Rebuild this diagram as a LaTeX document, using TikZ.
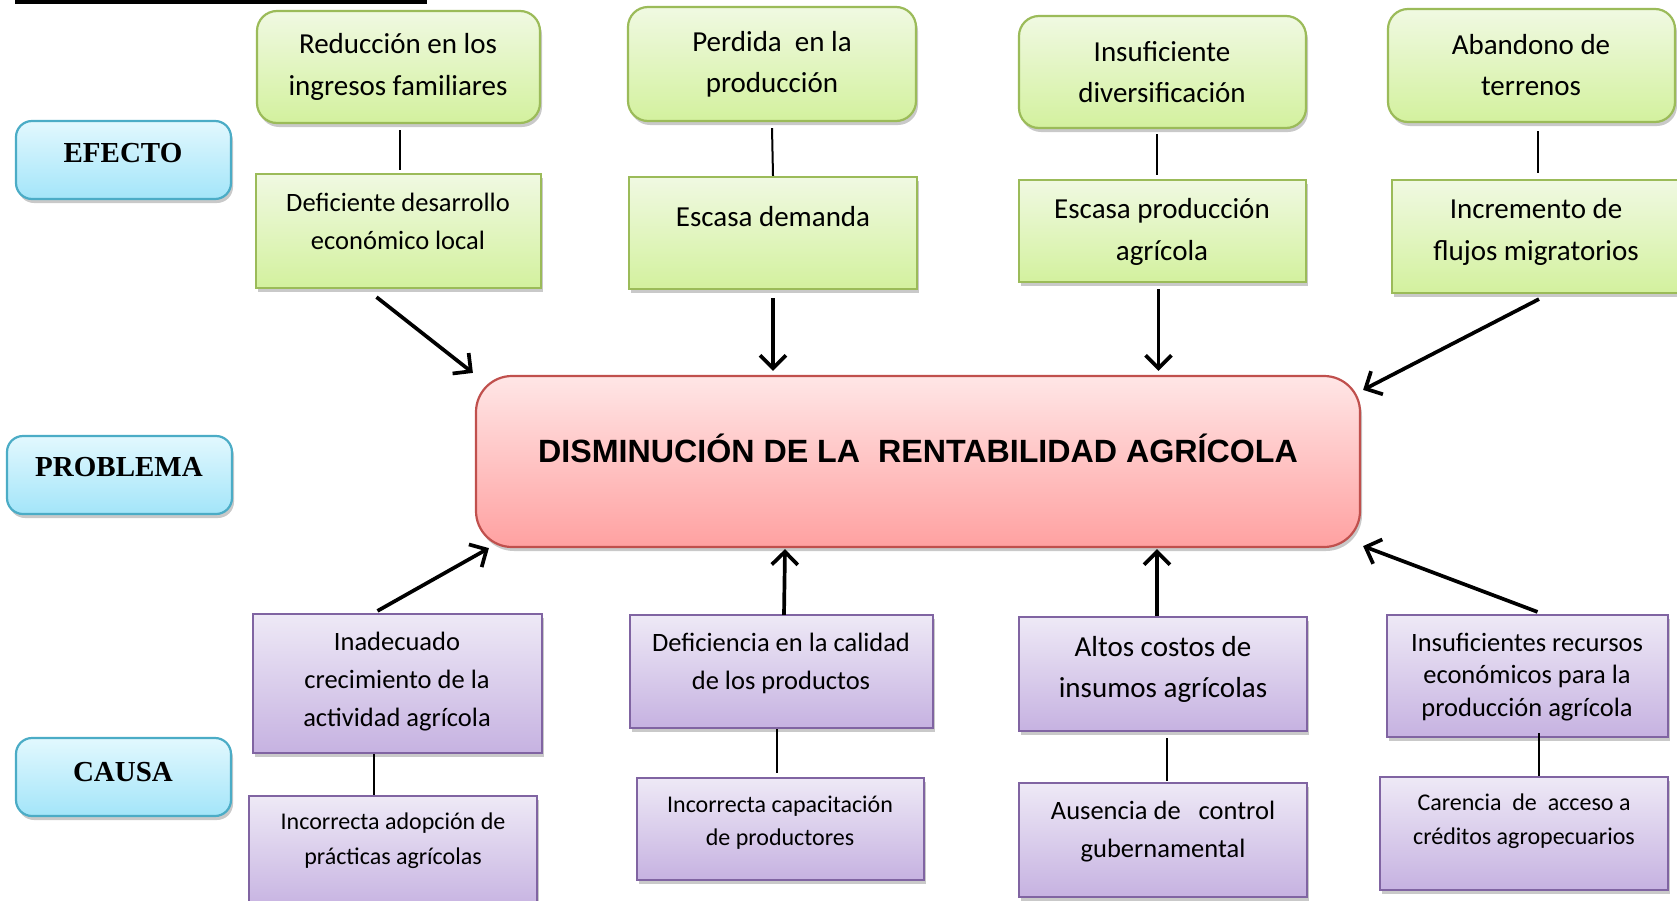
\documentclass[tikz,border=0pt]{standalone}
\usepackage{fontspec}
\setmainfont{Carlito}
\newfontfamily\titlefont{Liberation Sans}
\newfontfamily\labfont{Liberation Serif}
\usetikzlibrary{shadows,calc,arrows.meta}
\definecolor{gtop}{HTML}{F0F9E2}
\definecolor{gbot}{HTML}{D3F19E}
\definecolor{gdraw}{HTML}{9BBB59}
\definecolor{ptop}{HTML}{EEE9F6}
\definecolor{pbot}{HTML}{C6B2E1}
\definecolor{pdraw}{HTML}{8064A2}
\definecolor{btop}{HTML}{E2F8FE}
\definecolor{bbot}{HTML}{A3E5F9}
\definecolor{bdraw}{HTML}{4BACC6}
\definecolor{rtop}{HTML}{FFE6E6}
\definecolor{rbot}{HTML}{FFA1A1}
\definecolor{rdraw}{HTML}{C0504D}
\begin{document}
\begin{tikzpicture}[x=1pt,y=-1pt,
  shad/.style={drop shadow={shadow xshift=2pt,shadow yshift=-4pt,opacity=0.3,fill=black!70}},
  gbox/.style={draw=gdraw,line width=2.2pt,top color=gtop,bottom color=gbot,shad,inner sep=0pt},
  grbox/.style={gbox,rounded corners=20pt},
  pbox/.style={draw=pdraw,line width=2.2pt,top color=ptop,bottom color=pbot,shad,inner sep=0pt},
  bbox/.style={draw=bdraw,line width=2.2pt,top color=btop,bottom color=bbot,shad,rounded corners=16pt,inner sep=0pt},
  mainbox/.style={draw=rdraw,line width=2.2pt,top color=rtop,bottom color=rbot,shad,rounded corners=36pt,inner sep=0pt},
  txt/.style={align=center,inner sep=0pt,text=black},
  conn/.style={line width=2pt,black},
  arr/.style={line width=3.7pt,black,-{Straight Barb[length=13pt,width=26pt]}},
  labtxt/.style={inner sep=0pt,font=\labfont\bfseries\fontsize{29}{34}\selectfont}
]
\path[use as bounding box] (0,0) rectangle (1677,900);
\fill[black] (15,-2) rectangle (427,4);

% left labels
\node[bbox,minimum width=215pt,minimum height=78pt] (L1) at (123.5,160) {};
\node[bbox,minimum width=225pt,minimum height=78pt] (L2) at (119.5,475) {};
\node[bbox,minimum width=215pt,minimum height=78pt] (L3) at (123.5,777) {};
\node[labtxt] (tL1) at (123,153) {EFECTO};
\node[labtxt] (tL2) at (119,467) {PROBLEMA};
\node[labtxt] (tL3) at (123,772) {CAUSA};

% effects: top row
\node[grbox,minimum width=283pt,minimum height=112pt] (A1) at (398.5,67) {};
\node[grbox,minimum width=288pt,minimum height=114pt] (A2) at (772,64) {};
\node[grbox,minimum width=287pt,minimum height=112pt] (A3) at (1162.5,72) {};
\node[grbox,minimum width=287pt,minimum height=113pt] (A4) at (1531.5,65.5) {};
% effects: second row
\node[gbox,minimum width=285pt,minimum height=114pt] (B1) at (398.5,231) {};
\node[gbox,minimum width=288pt,minimum height=112pt] (B2) at (773,233) {};
\node[gbox,minimum width=287pt,minimum height=102pt] (B3) at (1162.5,231) {};
\node[gbox,minimum width=288pt,minimum height=113pt] (B4) at (1536,236.5) {};

% main problem
\node[mainbox,minimum width=884pt,minimum height=171pt] (C) at (918,461.5) {};

% causes
\node[pbox,minimum width=289pt,minimum height=139pt] (D1) at (397.5,683.5) {};
\node[pbox,minimum width=303pt,minimum height=113pt] (D2) at (781.5,671.5) {};
\node[pbox,minimum width=288pt,minimum height=114pt] (D3) at (1163,674) {};
\node[pbox,minimum width=281pt,minimum height=122pt] (D4) at (1527.5,676) {};
\node[pbox,minimum width=288pt,minimum height=114pt] (E1) at (393,853) {};
\node[pbox,minimum width=287pt,minimum height=102pt] (E2) at (780.5,829) {};
\node[pbox,minimum width=288pt,minimum height=114pt] (E3) at (1163,840) {};
\node[pbox,minimum width=288pt,minimum height=113pt] (E4) at (1524,833.5) {};

% texts
\node[txt,font=\fontsize{29}{42}\selectfont] (tA1) at (398,67) {Reducción en los\\ingresos familiares};
\node[txt,font=\fontsize{29}{41}\selectfont] (tA2) at (772,64) {Perdida\ \ en la\\producción};
\node[txt,font=\fontsize{29}{41}\selectfont] (tA3) at (1162,72) {Insuficiente\\diversificación};
\node[txt,font=\fontsize{29}{41}\selectfont] (tA4) at (1531,65.5) {Abandono de\\terrenos};
\node[txt,font=\fontsize{26.5}{38}\selectfont] (tB1) at (398,221.5) {Deficiente desarrollo\\económico local};
\node[txt,font=\fontsize{29}{40}\selectfont] (tB2) at (773,217) {Escasa demanda};
\node[txt,font=\fontsize{29}{42}\selectfont] (tB3) at (1162,231.5) {Escasa producción\\agrícola};
\node[txt,font=\fontsize{29}{42}\selectfont] (tB4) at (1536,231.5) {Incremento de\\flujos migratorios};
\node[txt,font=\titlefont\bfseries\fontsize{32.2}{37}\selectfont] (tC) at (918,448) {DISMINUCIÓN DE LA\ \ RENTABILIDAD AGRÍCOLA};
\node[txt,font=\fontsize{26.5}{38}\selectfont] (tD1) at (397,681.5) {Inadecuado\\crecimiento de la\\actividad agrícola};
\node[txt,font=\fontsize{26.5}{38}\selectfont] (tD2) at (781,663) {Deficiencia en la calidad\\de los productos};
\node[txt,font=\fontsize{29}{41}\selectfont] (tD3) at (1163,669) {Altos costos de\\insumos agrícolas};
\node[txt,font=\fontsize{26.5}{32.5}\selectfont] (tD4) at (1527,677) {Insuficientes recursos\\económicos para la\\producción agrícola};
\node[txt,font=\fontsize{24}{35}\selectfont] (tE1) at (393,840.5) {Incorrecta adopción de\\prácticas agrícolas};
\node[txt,font=\fontsize{24}{33}\selectfont] (tE2) at (780,822.5) {Incorrecta capacitación\\de productores};
\node[txt,font=\fontsize{26.5}{38}\selectfont] (tE3) at (1163,832) {Ausencia de\ \ \ control\\gubernamental};
\node[txt,font=\fontsize{24}{34}\selectfont] (tE4) at (1524,821) {Carencia\ \ de\ \ acceso a\\créditos agropecuarios};

% plain connectors
\draw[conn] ($(A1.south)+(1.5,6)$) -- ($(B1.north)+(1.5,-3)$);
\draw[conn] ($(A2.south)+(0,6)$) -- (B2.north);
\draw[conn] ($(A3.south)+(-5.5,5)$) -- ($(B3.north)+(-5.5,-4)$);
\draw[conn] ($(A4.south)+(6.5,8)$) -- ($(B4.north)+(2,-6)$);
\draw[conn] ($(D1.south)+(-23.5,0)$) -- ($(E1.north)+(-19,0)$);
\draw[conn] ($(D2.south)+(-4.5,0)$) -- ($(E2.north)+(-3.5,-4)$);
\draw[conn] ($(D3.south)+(4,6)$) -- ($(E3.north)+(4,-1)$);
\draw[conn] ($(D4.south)+(11.5,-5)$) -- ($(E4.north)+(15,0)$);

% arrows into the problem
\draw[arr] ($(B1.south)+(-22,8)$) -- ($(C.north west)+(-2,-2)$);
\draw[arr] ($(B2.south)+(0,8)$) -- ($(C.north -| B2.south)+(0,-4)$);
\draw[arr] ($(B3.south)+(-4,6)$) -- ($(C.north -| B3.south)+(-4,-4)$);
\draw[arr] ($(B4.south)+(3,5)$) -- ($(C.north east)+(2,15)$);
\draw[arr] ($(D1.north)+(-20,-2)$) -- ($(C.south west)+(14,0)$);
\draw[arr] ($(D2.north)+(2.5,1)$) -- ($(C.south -| D2.north)+(3.5,1)$);
\draw[arr] ($(D3.north)+(-6,0)$) -- ($(C.south -| D3.north)+(-6,1)$);
\draw[arr] ($(D4.north)+(10,-2)$) -- ($(C.south east)+(2,-2)$);
\end{tikzpicture}
\end{document}
